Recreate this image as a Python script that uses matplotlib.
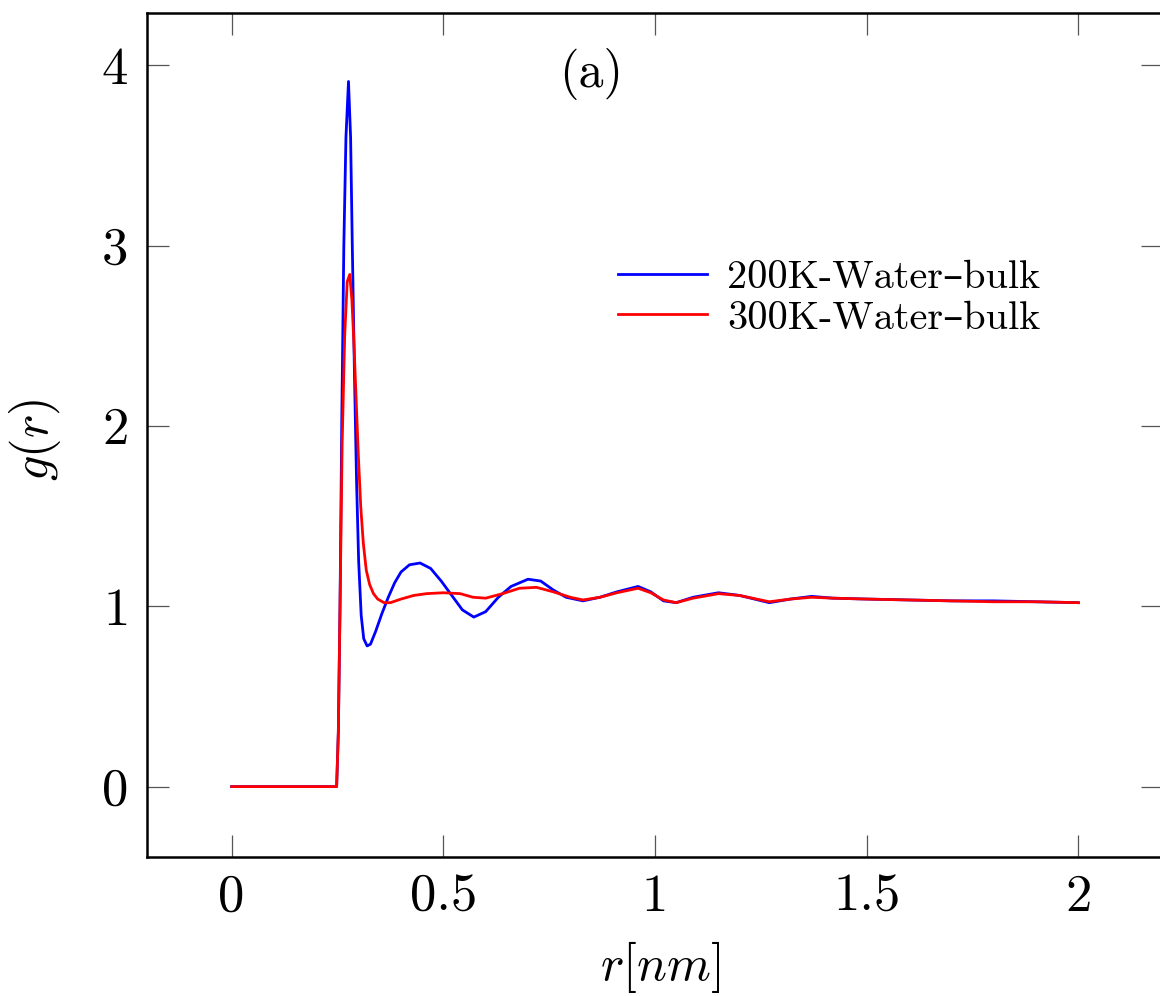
import matplotlib
matplotlib.use("Agg")
import matplotlib.pyplot as plt

plt.rcParams["font.family"] = ["cmr10", "DejaVu Serif"]
plt.rcParams["mathtext.fontset"] = "cm"
plt.rcParams["axes.formatter.use_mathtext"] = True

# g(r), 200 K bulk water
r_200 = [0.0, 0.248, 0.252, 0.256, 0.260, 0.265, 0.270, 0.276, 0.281, 0.285,
         0.290, 0.295, 0.300, 0.306, 0.312, 0.320, 0.328, 0.340, 0.355, 0.370,
         0.385, 0.400, 0.420, 0.445, 0.470, 0.495, 0.520, 0.545, 0.572, 0.600,
         0.630, 0.660, 0.700, 0.730, 0.760, 0.790, 0.830, 0.870, 0.910, 0.960,
         0.990, 1.020, 1.050, 1.090, 1.150, 1.200, 1.270, 1.320, 1.370, 1.420,
         1.500, 1.600, 1.700, 1.800, 1.900, 2.000]
g_200 = [0.0, 0.0, 0.3, 1.0, 2.0, 3.0, 3.6, 3.91, 3.6, 3.0,
         2.3, 1.7, 1.25, 0.95, 0.82, 0.78, 0.79, 0.86, 0.96, 1.05,
         1.13, 1.19, 1.23, 1.24, 1.21, 1.14, 1.06, 0.98, 0.94, 0.97,
         1.05, 1.11, 1.15, 1.14, 1.09, 1.05, 1.03, 1.05, 1.08, 1.11,
         1.08, 1.03, 1.02, 1.05, 1.075, 1.06, 1.02, 1.04, 1.055, 1.045,
         1.04, 1.035, 1.03, 1.03, 1.025, 1.02]

# 300 K bulk water
r_300 = [0.0, 0.248, 0.252, 0.256, 0.261, 0.267, 0.273, 0.279, 0.284, 0.289,
         0.294, 0.299, 0.305, 0.311, 0.318, 0.326, 0.335, 0.345, 0.360, 0.375,
         0.400, 0.430, 0.460, 0.500, 0.540, 0.570, 0.600, 0.640, 0.680, 0.720,
         0.760, 0.800, 0.830, 0.870, 0.910, 0.960, 0.990, 1.020, 1.050, 1.090,
         1.150, 1.200, 1.270, 1.320, 1.370, 1.420, 1.500, 1.600, 1.700, 1.800,
         1.900, 2.000]
g_300 = [0.0, 0.0, 0.3, 1.0, 1.9, 2.5, 2.8, 2.84, 2.7, 2.45,
         2.15, 1.85, 1.55, 1.35, 1.2, 1.12, 1.07, 1.04, 1.02, 1.02,
         1.04, 1.06, 1.07, 1.075, 1.07, 1.05, 1.045, 1.07, 1.10, 1.105,
         1.08, 1.05, 1.035, 1.05, 1.075, 1.10, 1.075, 1.035, 1.02, 1.045,
         1.07, 1.06, 1.025, 1.04, 1.05, 1.045, 1.04, 1.035, 1.03, 1.025,
         1.025, 1.02]

labels = ["200K-Water–bulk", "300K-Water–bulk"]
xticks = [0, 0.5, 1, 1.5, 2]
xticklabels = ["0", "0.5", "1", "1.5", "2"]
yticks = [0, 1, 2, 3, 4]

fig = plt.figure(figsize=(11.6, 9.96), dpi=100)
ax = fig.add_axes([0.1267, 0.1396, 0.8759, 0.8474])

ax.plot(r_200, g_200, color="#0000ff", lw=2.0, label=labels[0])
ax.plot(r_300, g_300, color="#ff0000", lw=2.0, label=labels[1])

ax.set_xlim(-0.2, 2.2)
ax.set_ylim(-0.39, 4.29)
ax.set_xticks(xticks)
ax.set_xticklabels(xticklabels)
ax.set_yticks(yticks)

for s in ax.spines.values():
    s.set_linewidth(1.8)
ax.tick_params(direction="in", length=16, width=0.9, color="#555555",
               top=True, right=True, labelsize=38)
ax.tick_params(axis="x", pad=12)
ax.tick_params(axis="y", pad=14)

ax.set_xlabel(r"$r[nm]$", fontsize=36)
ax.set_ylabel(r"$g(r)$", fontsize=36)
ax.xaxis.set_label_coords(0.505, -0.097)
ax.yaxis.set_label_coords(-0.083, 0.494)

ax.text(0.848, 3.95, "(a)", fontsize=36, ha="center", va="center")

ax.legend(loc="upper left", bbox_to_anchor=(0.444, 0.731), frameon=False,
          fontsize=29, handlelength=2.2, handletextpad=0.5, labelspacing=0.1,
          borderpad=0)

fig.savefig("out.png", dpi=100)
